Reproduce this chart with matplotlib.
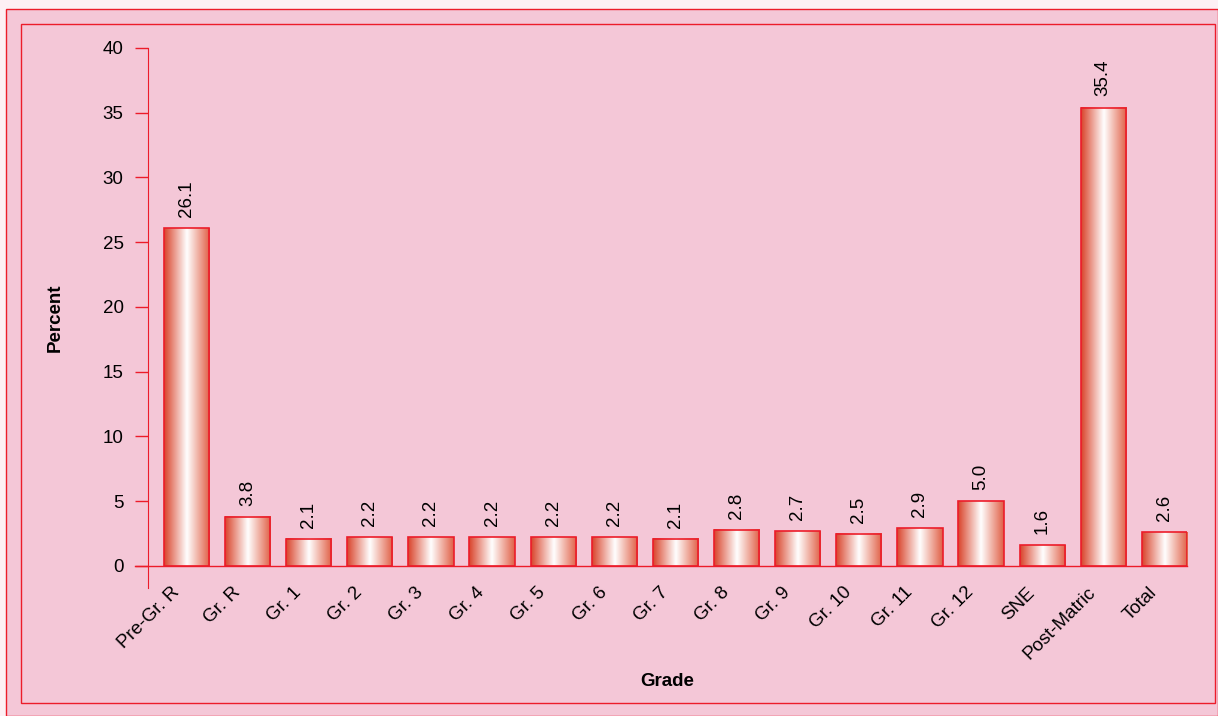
import matplotlib
matplotlib.use("Agg")
import matplotlib.pyplot as plt
import matplotlib.transforms as mtransforms
import numpy as np
from matplotlib.colors import LinearSegmentedColormap
from matplotlib.patches import Rectangle

plt.rcParams['font.family'] = ['Liberation Sans', 'DejaVu Sans']

# data
grades = ['Pre-Gr. R', 'Gr. R', 'Gr. 1', 'Gr. 2', 'Gr. 3', 'Gr. 4', 'Gr. 5', 'Gr. 6',
          'Gr. 7', 'Gr. 8', 'Gr. 9', 'Gr. 10', 'Gr. 11', 'Gr. 12', 'SNE',
          'Post-Matric', 'Total']
percent = [26.1, 3.8, 2.1, 2.2, 2.2, 2.2, 2.2, 2.2, 2.1, 2.8, 2.7, 2.5, 2.9, 5.0, 1.6, 35.4, 2.6]

red = '#ec1c2a'
pink = '#f4c7d7'

fig = plt.figure(figsize=(12.18, 7.16), dpi=100, facecolor='#fdf0f4')
W, H = 1218, 716
# panel backgrounds and frames (behind the axes)
fig.patches.append(Rectangle((6 / W, 0), 1 - 6 / W, 1 - 9 / H, transform=fig.transFigure,
                             facecolor=pink, edgecolor=red, lw=1.0, zorder=-2))
fig.patches.append(Rectangle((21 / W, 1 - 703 / H), (1215 - 21) / W, (703 - 24) / H,
                             transform=fig.transFigure, facecolor='none', edgecolor=red,
                             lw=1.0, zorder=-1))

ax = fig.add_axes([148 / W, 1 - 588 / H, (1187 - 148) / W, (588 - 48) / H])
ax.set_facecolor('none')

cmap = LinearSegmentedColormap.from_list('bar', ['#d9432a', '#ffffff', '#e05f45'])
grad = np.linspace(0, 1, 256).reshape(1, -1)
width = 0.74
x = np.arange(len(grades))
for xi, v in zip(x, percent):
    ax.imshow(grad, cmap=cmap, aspect='auto', extent=(xi - width / 2, xi + width / 2, 0, v),
              zorder=2, interpolation='bicubic')
    ax.add_patch(Rectangle((xi - width / 2, 0), width, v, facecolor='none',
                           edgecolor=red, lw=1.2, zorder=3))
    ax.annotate(f'{v:.1f}', (xi, v), xytext=(0, 8), textcoords='offset points',
                rotation=90, ha='center', va='bottom', fontsize=13.5)

ax.set_xlim(-0.63, len(grades) - 1 + 0.37)
ax.set_ylim(-1.7, 40)
ax.set_yticks(range(0, 41, 5))
ax.set_xticks(x)
ax.set_xticklabels(grades, rotation=45, ha='right', rotation_mode='anchor', fontsize=13.5)
ax.tick_params(axis='x', length=0, pad=0)
shift = mtransforms.ScaledTranslation(-16 / 100, 4 / 100, fig.dpi_scale_trans)
for lab in ax.get_xticklabels():
    lab.set_transform(lab.get_transform() + shift)
ax.tick_params(axis='y', length=9.5, color=red, width=1.0, labelsize=13.5, pad=8)

for s in ['top', 'right', 'bottom']:
    ax.spines[s].set_visible(False)
ax.spines['left'].set_color(red)
ax.axhline(0, xmin=-13 / 1039, xmax=1, color=red, lw=1.0, clip_on=False, zorder=4)

ax.set_ylabel('Percent', fontsize=13.5, fontweight='bold', labelpad=28)
ax.set_xlabel('Grade', fontsize=13.5, fontweight='bold')
ax.xaxis.set_label_coords(0.5, 1 - (682 - 48) / (588 - 48))
ax.xaxis.label.set_va('center')

fig.savefig('out.png', dpi=100, facecolor=fig.get_facecolor())
